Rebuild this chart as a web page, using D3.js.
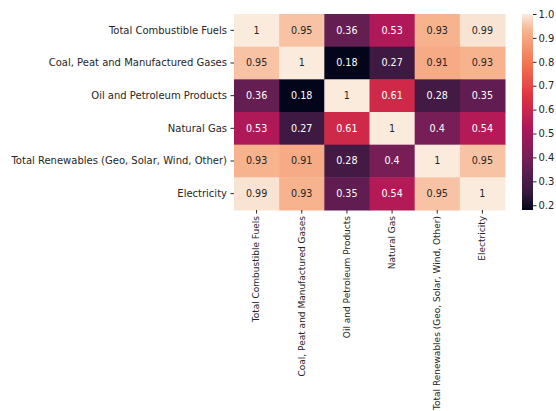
<!DOCTYPE html>
<html>
<head>
<meta charset="utf-8">
<script src="https://cdn.jsdelivr.net/npm/d3@7"></script>
<style>
  body { margin: 0; background: #fff; }
  text { font-family: "DejaVu Sans", sans-serif; }
</style>
</head>
<body>
<div id="my_dataviz"></div>
<script>
// data
var categories = ["Total Combustible Fuels", "Coal, Peat and Manufactured Gases",
  "Oil and Petroleum Products", "Natural Gas",
  "Total Renewables (Geo, Solar, Wind, Other)", "Electricity"];
var row0 = [1, 0.95, 0.36, 0.53, 0.93, 0.99];
var row1 = [0.95, 1, 0.18, 0.27, 0.91, 0.93];
var row2 = [0.36, 0.18, 1, 0.61, 0.28, 0.35];
var row3 = [0.53, 0.27, 0.61, 1, 0.4, 0.54];
var row4 = [0.93, 0.91, 0.28, 0.4, 1, 0.95];
var row5 = [0.99, 0.93, 0.35, 0.54, 0.95, 1];
var matrix = [row0, row1, row2, row3, row4, row5];
var colorTicks = [0.2, 0.3, 0.4, 0.5, 0.6, 0.7, 0.8, 0.9, 1.0];
var vmin = 0.18, vmax = 1;

var width = 556, height = 411;
var margin = {left: 234, right: 505, top: 14, bottom: 210};

var svg = d3.select("#my_dataviz")
  .append("svg")
    .attr("width", width)
    .attr("height", height);
svg.append("rect").attr("width", width).attr("height", height).attr("fill", "#fff");

// rocket-like colormap
var rocketStops = [
  [0, "#03051a"], [0.083, "#35193e"], [0.25, "#701f57"], [0.417, "#ad1759"],
  [0.583, "#e13342"], [0.75, "#f37651"], [0.917, "#f6b48f"], [1, "#faebdd"]
];
var rocket = d3.scaleLinear()
  .domain(rocketStops.map(function(d) { return d[0]; }))
  .range(rocketStops.map(function(d) { return d[1]; }))
  .interpolate(d3.interpolateRgb);
var color = function(v) { return rocket((v - vmin) / (vmax - vmin)); };

var x = d3.scaleBand().domain(d3.range(6)).range([margin.left, margin.right]);
var y = d3.scaleBand().domain(d3.range(6)).range([margin.top, margin.bottom]);

var cells = [];
matrix.forEach(function(r, i) {
  r.forEach(function(v, j) { cells.push({i: i, j: j, v: v}); });
});

svg.selectAll("rect.cell")
  .data(cells)
  .enter()
  .append("rect")
    .attr("class", "cell")
    .attr("x", function(d) { return x(d.j); })
    .attr("y", function(d) { return y(d.i); })
    .attr("width", x.bandwidth() + 0.5)
    .attr("height", y.bandwidth() + 0.5)
    .attr("fill", function(d) { return color(d.v); });

// annotations
svg.selectAll("text.annot")
  .data(cells)
  .enter()
  .append("text")
    .attr("x", function(d) { return x(d.j) + x.bandwidth() / 2; })
    .attr("y", function(d) { return y(d.i) + y.bandwidth() / 2; })
    .attr("dy", "0.35em")
    .attr("text-anchor", "middle")
    .style("font-size", "9.6px")
    .attr("fill", function(d) {
      var c = d3.rgb(color(d.v));
      var lum = 0.2126 * c.r + 0.7152 * c.g + 0.0722 * c.b;
      return lum > 104 ? "#262626" : "#fff";
    })
    .text(function(d) { return d3.format("")(d.v); });

// y axis
var yAxis = d3.axisLeft(y).tickSize(3.5).tickPadding(3.5)
  .tickFormat(function(i) { return categories[i]; });
var gy = svg.append("g").attr("transform", "translate(" + margin.left + ",0)").call(yAxis);
gy.select(".domain").remove();
gy.selectAll("text").style("font-size", "10px").attr("fill", "#262626");
gy.selectAll("line").attr("stroke", "#262626");

// x axis
var xAxis = d3.axisBottom(x).tickSize(3.5).tickPadding(3)
  .tickFormat(function(i) { return categories[i]; });
var gx = svg.append("g").attr("transform", "translate(0," + margin.bottom + ")").call(xAxis);
gx.select(".domain").remove();
gx.selectAll("line").attr("stroke", "#262626");
gx.selectAll("text")
  .style("font-size", "9px")
  .attr("fill", "#262626")
  .attr("transform", "rotate(-90)")
  .attr("text-anchor", "end")
  .attr("x", -6)
  .attr("y", 0)
  .attr("dy", "0.32em");

// colorbar
var cbLeft = 522, cbWidth = 11;
var cy = d3.scaleLinear().domain([vmin, vmax]).range([margin.bottom, margin.top]);
var defs = svg.append("defs");
var grad = defs.append("linearGradient").attr("id", "cbgrad")
  .attr("x1", 0).attr("y1", 1).attr("x2", 0).attr("y2", 0);
d3.range(0, 1.0001, 0.02).forEach(function(t) {
  grad.append("stop").attr("offset", t).attr("stop-color", rocket(t));
});
svg.append("rect")
  .attr("x", cbLeft).attr("y", margin.top)
  .attr("width", cbWidth).attr("height", margin.bottom - margin.top)
  .attr("fill", "url(#cbgrad)");
var cAxis = d3.axisRight(cy).tickValues(colorTicks).tickSize(3.5).tickPadding(2)
  .tickFormat(d3.format(".1f"));
var gc = svg.append("g").attr("transform", "translate(" + (cbLeft + cbWidth) + ",0)").call(cAxis);
gc.select(".domain").remove();
gc.selectAll("text").style("font-size", "10px").attr("fill", "#262626");
gc.selectAll("line").attr("stroke", "#262626");
</script>
</body>
</html>
